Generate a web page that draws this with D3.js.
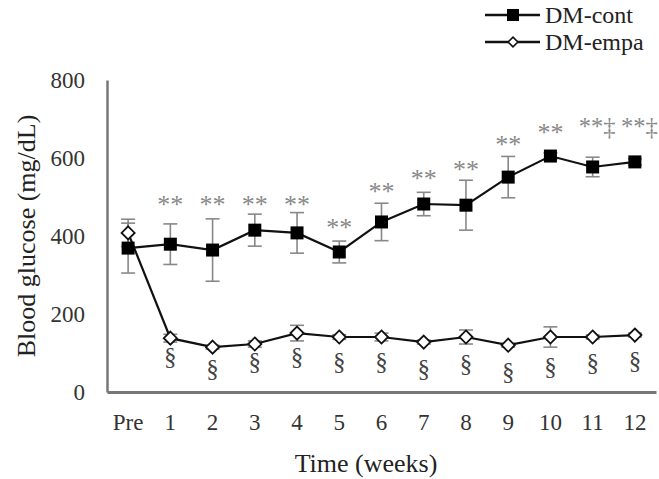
<!DOCTYPE html>
<html>
<head>
<meta charset="utf-8">
<script src="https://cdn.jsdelivr.net/npm/d3@7"></script>
<style>
  body { margin: 0; background: #fff; }
  text { font-family: "Liberation Serif", "Times New Roman", serif; }
</style>
</head>
<body>
<div id="chart-area"></div>
<script>
var weeks = ["Pre", "1", "2", "3", "4", "5", "6", "7", "8", "9", "10", "11", "12"];

var contMean = [369, 379, 364, 415, 408, 359, 436, 482, 479, 551, 605, 577, 590];
var contErr  = [64, 52, 80, 41, 52, 28, 48, 30, 64, 53, 8, 25, 8];

var empaMean = [408, 138, 115, 123, 151, 141, 141, 128, 141, 120, 141, 141, 146];
var empaErr  = [35, 10, 5, 8, 20, 6, 10, 5, 18, 5, 26, 5, 5];

// significance marks (label + centre height in mg/dL)
var starLabels = ["", "**", "**", "**", "**", "**", "**", "**", "**", "**", "**", "**\u2021", "**\u2021"];
var starPos    = [0, 492, 492, 492, 492, 433, 526, 559, 582, 646, 677, 692, 692];
var sectLabels = ["", "\u00a7", "\u00a7", "\u00a7", "\u00a7", "\u00a7", "\u00a7", "\u00a7", "\u00a7", "\u00a7", "\u00a7", "\u00a7", "\u00a7"];
var sectPos    = [0, 87, 56, 74, 87, 74, 74, 56, 69, 49, 62, 72, 77];

var yTicks = [0, 200, 400, 600, 800];

var W = 659, H = 479;
var svg = d3.select("#chart-area")
	.append("svg")
		.attr("width", W)
		.attr("height", H);

var x = d3.scaleBand()
	.domain(weeks)
	.range([107, 656])
	.padding(0);

var y = d3.scaleLinear()
	.domain([0, 800])
	.range([392, 80]);

function cx(d, i) { return x(weeks[i]) + x.bandwidth() / 2; }

// axes
var yAxis = svg.append("g")
	.attr("transform", "translate(107,0)")
	.call(d3.axisLeft(y).tickValues(yTicks).tickSize(0).tickPadding(22));
yAxis.select(".domain").attr("stroke", "#777").attr("stroke-width", 2.5);
yAxis.selectAll("text").attr("font-size", 23).attr("fill", "#333");

var xAxis = svg.append("g")
	.attr("transform", "translate(0,392)")
	.call(d3.axisBottom(x).tickSize(0).tickPadding(22));
xAxis.select(".domain").attr("stroke", "#777").attr("stroke-width", 3);
xAxis.selectAll("text").attr("font-size", 23).attr("fill", "#333");

svg.append("text")
	.attr("transform", "translate(35,236) rotate(-90)")
	.attr("text-anchor", "middle")
	.attr("font-size", 26)
	.attr("fill", "#222")
	.text("Blood glucose (mg/dL)");

svg.append("text")
	.attr("x", 366)
	.attr("y", 472)
	.attr("text-anchor", "middle")
	.attr("font-size", 26)
	.attr("fill", "#222")
	.text("Time (weeks)");

// error bars
function errorBars(mean, err) {
	var g = svg.append("g").attr("stroke", "#888").attr("stroke-width", 1.6);
	g.selectAll("line.v").data(mean).enter().append("line")
		.attr("x1", cx).attr("x2", cx)
		.attr("y1", function(d, i){ return y(d + err[i]); })
		.attr("y2", function(d, i){ return y(d - err[i]); });
	g.selectAll("line.t").data(mean).enter().append("line")
		.attr("x1", function(d, i){ return cx(d, i) - 7; })
		.attr("x2", function(d, i){ return cx(d, i) + 7; })
		.attr("y1", function(d, i){ return y(d + err[i]); })
		.attr("y2", function(d, i){ return y(d + err[i]); });
	g.selectAll("line.b").data(mean).enter().append("line")
		.attr("x1", function(d, i){ return cx(d, i) - 7; })
		.attr("x2", function(d, i){ return cx(d, i) + 7; })
		.attr("y1", function(d, i){ return y(d - err[i]); })
		.attr("y2", function(d, i){ return y(d - err[i]); });
}
errorBars(contMean, contErr);
errorBars(empaMean, empaErr);

var line = d3.line()
	.x(function(d, i){ return cx(d, i); })
	.y(function(d){ return y(d); });

svg.append("path").datum(contMean)
	.attr("d", line).attr("fill", "none").attr("stroke", "#111").attr("stroke-width", 2.2);
svg.append("path").datum(empaMean)
	.attr("d", line).attr("fill", "none").attr("stroke", "#111").attr("stroke-width", 2.2);

// markers
svg.selectAll("rect.cont").data(contMean).enter().append("rect")
	.attr("class", "cont")
	.attr("x", function(d, i){ return cx(d, i) - 6.5; })
	.attr("y", function(d){ return y(d) - 6.5; })
	.attr("width", 13).attr("height", 13)
	.attr("fill", "#000");

var diamond = d3.symbol().type(d3.symbolDiamond2).size(110);
svg.selectAll("path.empa").data(empaMean).enter().append("path")
	.attr("class", "empa")
	.attr("d", diamond)
	.attr("transform", function(d, i){ return "translate(" + cx(d, i) + "," + y(d) + ")"; })
	.attr("fill", "#fff").attr("stroke", "#111").attr("stroke-width", 1.8);

// annotations
svg.selectAll("text.star").data(starLabels).enter().append("text")
	.attr("class", "star")
	.attr("x", cx)
	.attr("y", function(d, i){ return y(starPos[i]) + 13; })
	.attr("text-anchor", function(d){ return d.length > 2 ? "start" : "middle"; })
	.attr("dx", function(d){ return d.length > 2 ? -14 : 0; })
	.attr("font-size", function(d){ return d.length > 2 ? 24.5 : 26; })
	.attr("fill", "#888")
	.text(function(d){ return d; });

svg.selectAll("text.sect").data(sectLabels).enter().append("text")
	.attr("class", "sect")
	.attr("x", cx)
	.attr("y", function(d, i){ return y(sectPos[i]) + 7; })
	.attr("text-anchor", "middle")
	.attr("font-size", 25)
	.attr("fill", "#444")
	.text(function(d){ return d; });

// legend
var legendItems = ["DM-cont", "DM-empa"];
var legend = svg.selectAll("g.legend").data(legendItems).enter().append("g")
	.attr("class", "legend")
	.attr("transform", function(d, i){ return "translate(485," + (15 + i * 27) + ")"; });
legend.append("line")
	.attr("x1", 0).attr("x2", 55).attr("y1", 0).attr("y2", 0)
	.attr("stroke", "#111").attr("stroke-width", 2.5);
legend.filter(function(d, i){ return i === 0; }).append("rect")
	.attr("x", 22).attr("y", -6).attr("width", 12).attr("height", 12).attr("fill", "#000");
legend.filter(function(d, i){ return i === 1; }).append("path")
	.attr("d", d3.symbol().type(d3.symbolDiamond2).size(60))
	.attr("transform", "translate(28,0)")
	.attr("fill", "#fff").attr("stroke", "#111").attr("stroke-width", 1.6);
legend.append("text")
	.attr("x", 60).attr("y", 8)
	.attr("font-size", 24)
	.attr("fill", "#222")
	.text(function(d){ return d; });
</script>
</body>
</html>
